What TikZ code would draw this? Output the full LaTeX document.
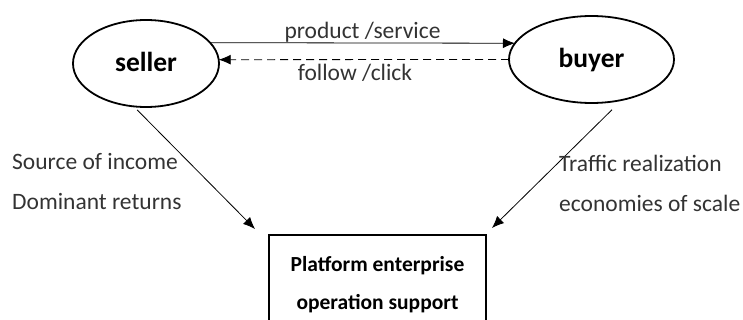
\documentclass[tikz,border=0pt]{standalone}
\usepackage{fontspec}
\setmainfont{Carlito}
\usetikzlibrary{shapes}
\usetikzlibrary{arrows.meta,positioning}
\tikzset{
    party/.style={ellipse,draw=black,line width=1.8pt,minimum height=87pt,inner sep=0pt,outer sep=0pt,text height=20pt,text depth=3pt,font=\fontsize{27.5}{30}\selectfont\bfseries},
    platform/.style={rectangle,draw=black,line width=1.3pt,minimum width=217pt,minimum height=100pt,align=center,font=\fontsize{21.5}{38}\selectfont\bfseries},
    note/.style={inner sep=0pt,text=black!80,font=\fontsize{23.5}{28}\selectfont},
    flow/.style={line width=0.8pt,->},
}

\begin{document}
\begin{tikzpicture}[x=1pt,y=-1pt,>={Latex[length=12pt,width=10pt]}]
\clip (0,0) rectangle (743,320);
\node[party,minimum width=146pt](seller) at (146,63.5) {seller};
\node[party,minimum width=165pt](buyer) at (591.5,59.5) {buyer};
\node[platform](platform) at (377.5,285) {Platform enterprise\\operation support};

% exchange between the two sides
\draw[flow] (seller.18) -- (buyer.168);
\draw[flow,dashed,dash pattern=on 8pt off 5pt] (buyer.180) -- (seller.3);
\node[note](product) at (362.5,32) {product /service};
\node[note](follow) at (355,73) {follow /click};

% both sides feed the platform
\coordinate (sellerin) at (255,229);
\coordinate (buyerin) at (492,228);
\draw[flow,shorten <=5pt] (seller.-106) -- (sellerin);
\draw[flow,shorten <=14pt] (buyer.-53) -- (buyerin);

\node[note,anchor=west](income) at (12,162) {Source of income};
\node[note,anchor=west](returns) at (12,202) {Dominant returns};
\node[note,anchor=west](traffic) at (559,163) {Traffic realization};
\node[note,anchor=west](scale) at (559,203) {economies of scale};
\end{tikzpicture}
\end{document}
